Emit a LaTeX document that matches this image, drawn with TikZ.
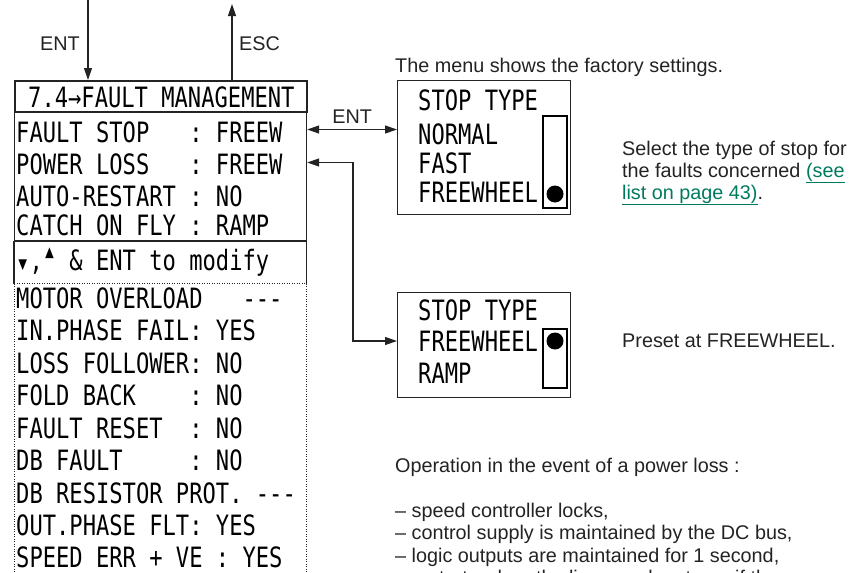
\documentclass[tikz,border=0pt]{standalone}
\usepackage{fontspec}
\setmainfont{Liberation Sans}
\newfontfamily\lcdfont[FakeStretch=0.79]{DejaVu Sans Mono}
\usetikzlibrary{arrows.meta, positioning, calc}
\definecolor{inkgray}{RGB}{35,35,35}
\definecolor{linkgreen}{RGB}{0,122,94}
\newcommand{\pagelink}[1]{\textcolor{linkgreen}{\underline{#1}}}
\tikzstyle{frame} = [rectangle, draw=inkgray, line width=1.2pt, anchor=north west, inner sep=0pt]
\tikzstyle{bar} = [rectangle, draw=black, line width=2.4pt, anchor=north west, inner sep=0pt]
\tikzstyle{knob} = [circle, fill=black, minimum size=17pt, inner sep=0pt]
\tikzstyle{lcdtext} = [anchor=base west, inner sep=0pt, font=\lcdfont\fontsize{28}{30}\selectfont]
\tikzstyle{note} = [anchor=base west, inner sep=0pt, text=inkgray, font=\fontsize{19.8}{22}\selectfont]
\tikzstyle{notebox} = [anchor=north west, inner sep=0pt, align=left, text=inkgray]
\tikzstyle{arrow} = [line width=1.2pt, draw=inkgray, -{Triangle[length=12pt,width=8pt]}]
\tikzstyle{dbl_arrow} = [line width=1.2pt, draw=inkgray, {Triangle[length=12pt,width=8pt]}-{Triangle[length=12pt,width=8pt]}]
\tikzstyle{dotline} = [line width=0.9pt, draw=inkgray, dash pattern=on 1.2pt off 1.3pt]
\begin{document}
\begin{tikzpicture}[x=1pt, y=-1pt]
\useasboundingbox (0,0) rectangle (852,573);
\clip (0,0) rectangle (852,573);

% --- Menu display ---
\node (params) [frame, minimum width=292pt, minimum height=129pt] at (14,111) {};
\node (title) [frame, line width=2.4pt, minimum width=292pt, minimum height=31pt] at (14,80) {};
\draw [line width=2.4pt, inkgray] (params.south west) -- (params.south east);
\node (hint) [anchor=north west, inner sep=0pt, minimum width=292pt, minimum height=42pt] at (params.south west) {};
\draw [line width=1.2pt, inkgray] (hint.north west) -- (hint.south west);
\draw [line width=1.2pt, inkgray] (hint.north east) -- (hint.south east);
\draw [dotline] (hint.south west) -- (hint.south east);
\draw [dotline] (hint.south west) -- ++(0,310);
\draw [dotline] (hint.south east) -- ++(0,310);

\node (titletext) [lcdtext] at (28,107) {7.4→FAULT~MANAGEMENT};
\node (faultstop) [lcdtext] at (16,142) {FAULT~STOP~~~:~FREEW};
\node (powerloss) [lcdtext] at (16,174) {POWER~LOSS~~~:~FREEW};
\node (autorestart) [lcdtext] at (16,206) {AUTO-RESTART~:~NO};
\node (catchfly) [lcdtext] at (16,235.5) {CATCH~ON~FLY~:~RAMP};
\node (hinttext) [lcdtext] at (16,270) {\raisebox{-0.1em}{▾},\smash{\raisebox{0.35em}{▴}}~\&~ENT~to~modify};

\node (motor) [lcdtext] at (16,308) {MOTOR~OVERLOAD~~~-{}-{}-};
\node (inphase) [lcdtext] at (16,340.5) {IN.PHASE~FAIL:~YES};
\node (follower) [lcdtext] at (16,373) {LOSS~FOLLOWER:~NO};
\node (foldback) [lcdtext] at (16,405.5) {FOLD~BACK~~~~:~NO};
\node (faultreset) [lcdtext] at (16,438) {FAULT~RESET~~:~NO};
\node (dbfault) [lcdtext] at (16,470.5) {DB~FAULT~~~~~:~NO};
\node (dbresistor) [lcdtext] at (16,503) {DB~RESISTOR~PROT.~-{}-{}-};
\node (outphase) [lcdtext] at (16,535.5) {OUT.PHASE~FLT:~YES};
\node (speederr) [lcdtext] at (16,567) {SPEED~ERR~+~VE~:~YES};

% --- Keys ---
\coordinate (entin) at (88,0);
\coordinate (escout) at (232,4);
\draw [arrow] (entin) -- (entin |- title.north);
\draw [arrow] (escout |- title.north) -- (escout);
\node (entkey) [note, anchor=base east] at (80,50) {ENT};
\node (esckey) [note] at (239,50) {ESC};

% --- Stop type, factory setting ---
\node (menunote) [note] at (395,72) {The menu shows the factory settings.};
\node (menuA) [frame, minimum width=173pt, minimum height=134pt] at (397,80) {};
\node (barA) [bar, minimum width=24pt, minimum height=92pt] at (542,115) {};
\node (knobA) [knob] at (555,194) {};
\node (stoptypeA) [lcdtext] at (418,110) {STOP~TYPE};
\node (normal) [lcdtext] at (418,144) {NORMAL};
\node (fast) [lcdtext] at (418,173) {FAST};
\node (freewheelA) [lcdtext] at (418,202) {FREEWHEEL};
\node (selectnote) [notebox, font=\fontsize{19.8}{22}\selectfont] at (622,140.5) {Select the type of stop for\\the faults concerned \pagelink{(see}\\\pagelink{list on page 43)}.};

% --- Stop type, power loss ---
\node (menuB) [frame, minimum width=173pt, minimum height=105pt] at (397,292) {};
\node (barB) [bar, minimum width=24pt, minimum height=59pt] at (542,328) {};
\node (knobB) [knob] at (555,341) {};
\node (stoptypeB) [lcdtext] at (418,320) {STOP~TYPE};
\node (freewheelB) [lcdtext] at (418,351) {FREEWHEEL};
\node (ramp) [lcdtext] at (418,383) {RAMP};
\node (presetnote) [note] at (622,347) {Preset at FREEWHEEL.};

% --- Connections ---
\coordinate (stoplink) at ($(faultstop.base)+(0,-12.5)$);
\coordinate (losslink) at ($(powerloss.base)+(0,-11.5)$);
\coordinate (kink) at (353,250);
\draw [dbl_arrow] (params.east |- stoplink) -- node[above, inner sep=5pt, text=inkgray, font=\fontsize{19.8}{22}\selectfont] {ENT} (menuA.west |- stoplink);
\draw [dbl_arrow] (params.east |- losslink) -| (kink) |- (menuB.west |- knobB);

% --- Power loss notes ---
\node (opnote) [note] at (395,472) {Operation in the event of a power loss :};
\node (oplist) [notebox, font=\fontsize{19.8}{22.5}\selectfont] at (395,502.5) {-- speed controller locks,\\-- control supply is maintained by the DC bus,\\-- logic outputs are maintained for 1 second,\\-- restarts when the line supply returns if the};

\end{tikzpicture}
\end{document}
